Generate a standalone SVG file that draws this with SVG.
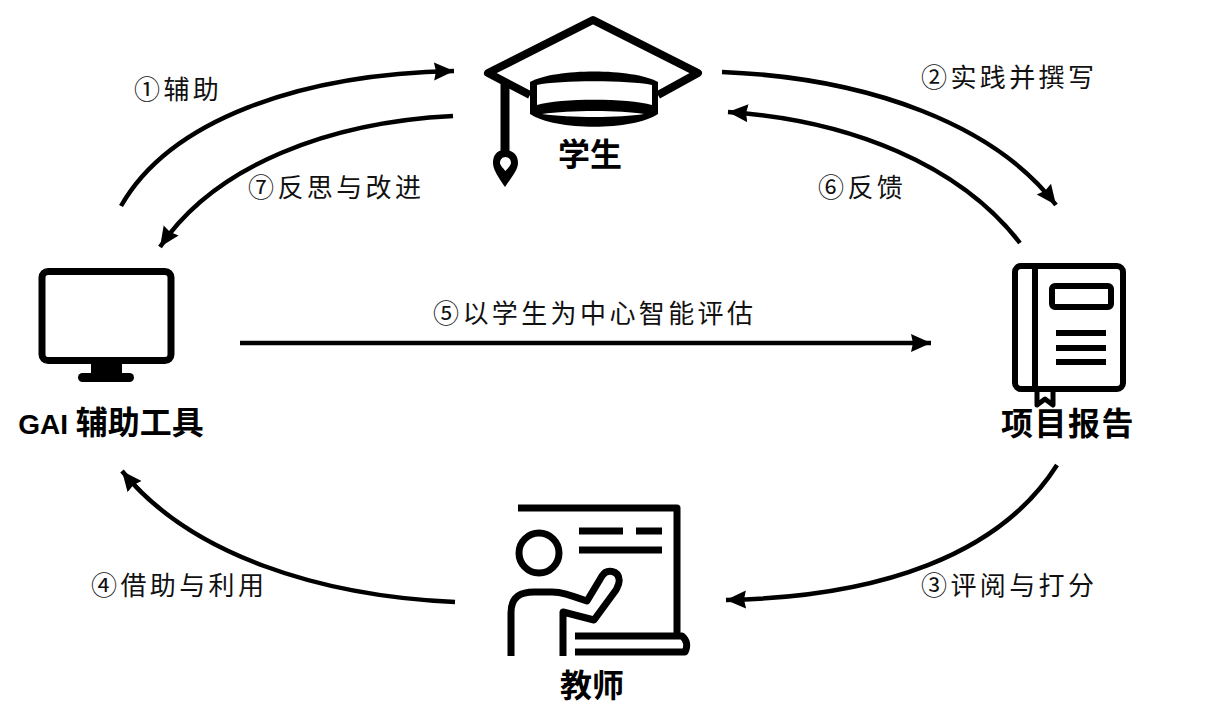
<svg xmlns="http://www.w3.org/2000/svg" width="1214" height="725" viewBox="0 0 1214 725">
<style>
.ic{fill:none;stroke:#000;stroke-linejoin:round}
.c{fill:none;stroke:#000;stroke-width:4.500;marker-end:url(#a)}
.l{font-family:"Noto Sans CJK SC","Liberation Sans",sans-serif;font-size:26px;fill:#111;letter-spacing:3.4px}
.b{font-family:"Noto Sans CJK SC","Liberation Sans",sans-serif;font-size:32px;font-weight:700;fill:#000;text-anchor:middle}
</style>
<defs>
<marker id="a" markerUnits="userSpaceOnUse" markerWidth="22" markerHeight="20" refX="20" refY="10" orient="auto">
<path d="M0 1L20 10L0 19L2 10Z" fill="#000"/>
</marker>
</defs>
<rect width="1214" height="725" fill="#fff"/>
<g id="connectors">
<path class="c" d="M121 206C170 120 300 74 454 71"/>
<path class="c" d="M453 116C330 122 215 165 160 247"/>
<path class="c" d="M722 72C870 78 995 125 1056 205"/>
<path class="c" d="M1020 243C960 165 850 120 728 112"/>
<path class="c" d="M1057 465C1000 555 880 597 726 600"/>
<path class="c" d="M455 602C320 596 190 555 122 471"/>
<path class="c" d="M240 343H931"/>
</g>
<g id="student">
<path class="ic" stroke-width="8" d="M530 95L488 73L593 20L698 73L658 95"/>
<path class="ic" stroke-width="9" d="M505 84V152"/>
<path d="M505 150C514 150 518 156 518 163C518 170 511 178 505 187C499 178 493 170 493 163C493 156 496 150 505 150Z" fill="#000"/>
<path d="M505.500 157C509 157 511 160 511 163C511 165 508 168 505.500 171C503 168 500 165 500 163C500 160 502 157 505.500 157Z" fill="#fff"/>
<path d="M530 82C555 68 633 68 658 82V114C633 131 555 131 530 114Z" fill="#000"/>
<path d="M537 85C560 80 628 80 652 85V105C628 98 560 98 537 105Z" fill="#fff"/>
<path d="M542 114C570 110 620 110 644 114C620 118 570 118 542 114Z" fill="#fff"/>
<text class="b" x="590" y="166">学生</text>
</g>
<g id="gai">
<rect class="ic" x="42" y="271.500" width="129" height="89" rx="6" stroke-width="7"/>
<rect x="91" y="360" width="31" height="16" fill="#000"/>
<rect x="78" y="373" width="56" height="9" rx="4.500" fill="#000"/>
<text class="b" x="111" y="434"><tspan font-family="Liberation Sans" font-size="28">GAI </tspan>辅助工具</text>
</g>
<g id="report">
<rect class="ic" x="1015" y="266" width="108" height="123" rx="6" stroke-width="6"/>
<path class="ic" stroke-width="6" d="M1035 266V389"/>
<rect class="ic" x="1052" y="286" width="59" height="21" rx="3" stroke-width="6"/>
<path class="ic" stroke-width="6" d="M1056 333H1106M1056 348H1106M1056 362H1106"/>
<path class="ic" stroke-width="5" d="M1037 390V405L1045 399L1053 405V390"/>
<text class="b" x="1068" y="435" letter-spacing="1.500">项目报告</text>
</g>
<g id="teacher">
<path class="ic" stroke-width="7" d="M518 508H677V636"/>
<path class="ic" stroke-width="7" d="M579 531H623M636 531H662M579 550H662"/>
<circle cx="539" cy="553" r="20" class="ic" stroke-width="7"/>
<path class="ic" stroke-width="7" stroke-linecap="butt" d="M511 656V613C511 597 520 592 534 592H552C562 592 570 595 587 601L602 576C607 568 618 571 619 579C620 583 618 586 616 590L594 620L563 612V656"/>
<path class="ic" stroke-width="7" d="M575 636H682C687 640 688 646 685 652H575"/>
<text class="b" x="592" y="697">教师</text>
</g>
<g id="labels">
<text class="l" x="134" y="99">①辅助</text>
<text class="l" x="248" y="197">⑦反思与改进</text>
<text class="l" x="921" y="87">②实践并撰写</text>
<text class="l" x="818" y="197">⑥反馈</text>
<text class="l" x="433" y="323">⑤以学生为中心智能评估</text>
<text class="l" x="921" y="595">③评阅与打分</text>
<text class="l" x="91" y="595">④借助与利用</text>
</g>
</svg>
